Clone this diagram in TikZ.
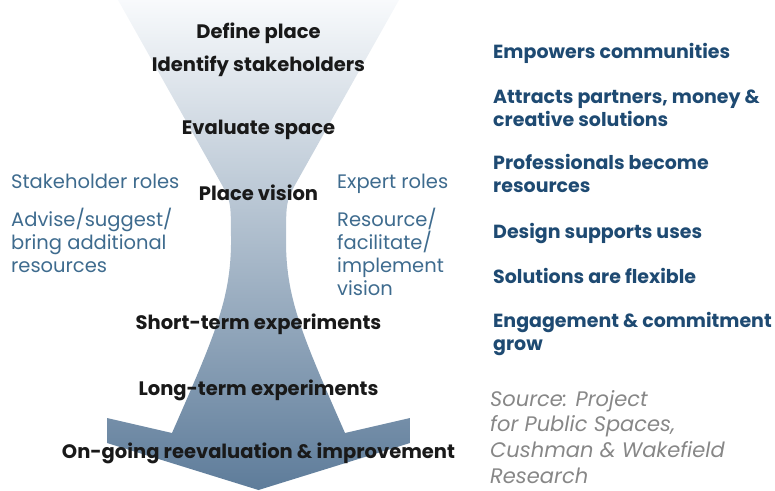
\documentclass[tikz,border=0pt]{standalone}
\usepackage{fontspec}
\setmainfont{Poppins}
\usetikzlibrary{positioning}

\definecolor{funnelTop}{RGB}{248,250,252}
\definecolor{funnelBot}{RGB}{94,124,154}
\definecolor{stepInk}{RGB}{25,25,25}
\definecolor{roleBlue}{RGB}{62,107,142}
\definecolor{gainBlue}{RGB}{30,74,114}
\definecolor{srcGrey}{RGB}{135,135,135}

\begin{document}
\begin{tikzpicture}[
  x=1pt, y=-1pt,
  steplabel/.style={font=\fontsize{19.5}{22}\selectfont\bfseries, text=stepInk,
    anchor=base, inner sep=0pt},
  rolelabel/.style={font=\fontsize{19.5}{22.7}\selectfont, text=roleBlue,
    anchor=base west, align=left, inner sep=0pt},
  gainlabel/.style={font=\fontsize{19}{22.3}\selectfont\bfseries, text=gainBlue,
    anchor=base west, align=left, inner sep=0pt},
  srclabel/.style={font=\fontsize{21}{25.6}\selectfont\itshape, text=srcGrey,
    anchor=base west, align=left, inner sep=0pt},
]
\useasboundingbox (0,0) rectangle (775,490);

% funnel and arrow
\shade[top color=funnelTop, bottom color=funnelBot]
  (118,0) -- (222,185) .. controls (231,202) .. (231,245)
  .. controls (230,300) and (215,335) .. (172,433)
  -- (107,418) -- (107,443) -- (258.5,490) -- (410,443) -- (410,418)
  -- (345,433) .. controls (302,335) and (287,300) .. (286,245)
  .. controls (286,202) .. (295,185) -- (399,0) -- cycle;

% steps
\node[steplabel] (define) at (258.5,38) {Define place};
\node[steplabel] (identify) at (258.5,71) {Identify stakeholders};
\node[steplabel] (evaluate) at (258.5,134) {Evaluate space};
\node[steplabel] (vision) at (258.5,200) {Place vision};
\node[steplabel] (short) at (258.5,329) {Short-term experiments};
\node[steplabel] (long) at (258.5,395) {Long-term experiments};
\node[steplabel] (ongoing) at (258.5,458) {On-going reevaluation \& improvement};

% roles (multi-line nodes sit on their last baseline)
\node[rolelabel] (stakeroles) at (11,188) {Stakeholder roles};
\node[rolelabel] (stakedo) at (11,272) {Advise/suggest/\\bring additional\\resources};
\node[rolelabel] (expertroles) at (337,188) {Expert roles};
\node[rolelabel] (expertdo) at (337,295) {Resource/\\facilitate/\\implement\\vision};

% outcomes
\node[gainlabel] (gain1) at (493,58) {Empowers communities};
\node[gainlabel] (gain2) at (493,126) {Attracts partners, money \&\\creative solutions};
\node[gainlabel] (gain3) at (493,192) {Professionals become\\resources};
\node[gainlabel] (gain4) at (493,238) {Design supports uses};
\node[gainlabel] (gain5) at (493,283) {Solutions are flexible};
\node[gainlabel] (gain6) at (493,350) {Engagement \& commitment\\grow};

\node[srclabel] (source) at (490,483) {Source: Project\\for Public Spaces,\\Cushman \& Wakefield\\Research};

\end{tikzpicture}
\end{document}
